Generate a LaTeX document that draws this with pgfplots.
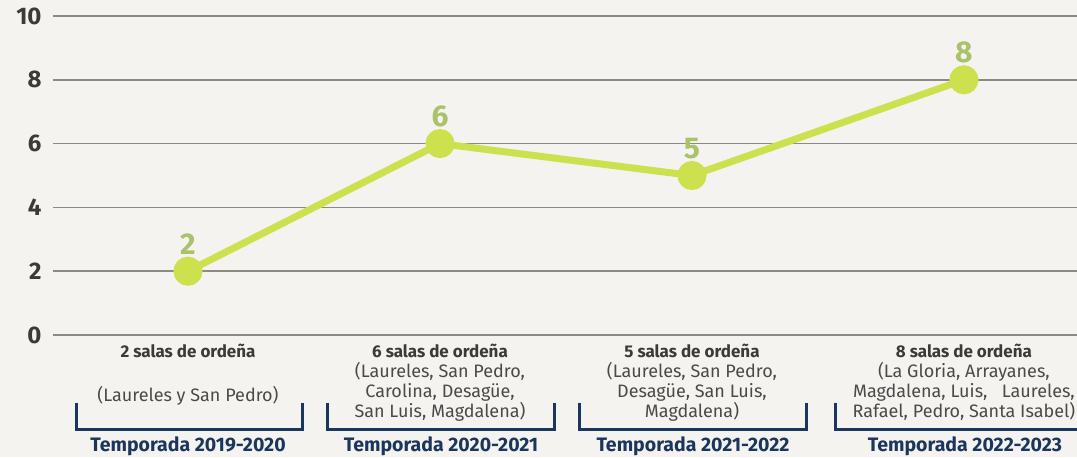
\documentclass[border=0pt]{standalone}
\usepackage{fontspec}
\setmainfont{Fira Sans}
\usepackage{pgfplots}
\pgfplotsset{compat=1.18}

\definecolor{paper}{HTML}{F4F3EF}
\definecolor{gridgray}{HTML}{8E8983}
\definecolor{linegreen}{HTML}{CDE04E}
\definecolor{labgreen}{HTML}{A9C26B}
\definecolor{navy}{HTML}{1B365D}
\definecolor{tickdark}{HTML}{3A3A3A}
\definecolor{textgray}{HTML}{4A4A4A}

\newcommand{\salas}[1]{{\fontsize{8.5}{10}\selectfont\textbf{\textcolor{tickdark}{#1}}}}

\begin{document}
\begin{tikzpicture}
\useasboundingbox (-26.5pt,-61pt) rectangle (512pt,167.5pt);
\fill[paper] (-26.5pt,-61pt) rectangle (512pt,167.5pt);
\begin{axis}[
    scale only axis,
    width=512pt, height=159.5pt,
    xmin=-0.5357, xmax=3.5278,
    ymin=0, ymax=10,
    clip=false,
    axis line style={draw=none},
    major tick length=0pt,
    ytick={0,2,...,10},
    ymajorgrids,
    grid style={gridgray, line width=0.8pt},
    /pgf/number format/assume math mode=true,
    yticklabel style={font=\bfseries\fontsize{12}{12}\selectfont, text=tickdark, xshift=-2.2pt},
    xtick={0,1,2,3.079},
    xticklabels={
        {\salas{2 salas de ordeña}\\[12pt](Laureles y San Pedro)},
        {\salas{6 salas de ordeña}\\(Laureles, San Pedro,\\Carolina, Desagüe,\\San Luis, Magdalena)},
        {\salas{5 salas de ordeña}\\(Laureles, San Pedro,\\Desagüe, San Luis,\\Magdalena)},
        {\salas{8 salas de ordeña}\\(La Gloria, Arrayanes,\\Magdalena, Luis,\ \ \ Laureles,\\Rafael, Pedro, Santa Isabel)}
    },
    xticklabel style={align=center, anchor=north, font=\fontsize{9}{10}\selectfont, text=textgray, yshift=-1pt},
    nodes near coords,
    every node near coord/.append style={font=\bfseries\fontsize{15}{15}\selectfont, text=labgreen, anchor=base, yshift=8.5pt},
]
\addplot[linegreen, line width=3.5pt, mark=*, mark size=5.5pt,
    mark options={fill=linegreen, draw=none}]
    coordinates {(0,2) (1,6) (2,5) (3.079,8)};

% brackets under each season
\draw[navy, line width=1.5pt] (axis cs:-0.444,-2.13) -- (axis cs:-0.444,-2.95) -- (axis cs:0.456,-2.95) -- (axis cs:0.456,-2.13);
\draw[navy, line width=1.5pt] (axis cs:0.552,-2.13) -- (axis cs:0.552,-2.95) -- (axis cs:1.456,-2.95) -- (axis cs:1.456,-2.13);
\draw[navy, line width=1.5pt] (axis cs:1.552,-2.13) -- (axis cs:1.552,-2.95) -- (axis cs:2.456,-2.95) -- (axis cs:2.456,-2.13);
\draw[navy, line width=1.5pt] (axis cs:2.571,-2.13) -- (axis cs:2.571,-2.95) -- (axis cs:3.587,-2.95) -- (axis cs:3.587,-2.13);

\node[font=\bfseries\fontsize{9.75}{10}\selectfont, text=navy] at (axis cs:0,-3.5) {Temporada 2019-2020};
\node[font=\bfseries\fontsize{9.75}{10}\selectfont, text=navy] at (axis cs:1.004,-3.5) {Temporada 2020-2021};
\node[font=\bfseries\fontsize{9.75}{10}\selectfont, text=navy] at (axis cs:2.004,-3.5) {Temporada 2021-2022};
\node[font=\bfseries\fontsize{9.75}{10}\selectfont, text=navy] at (axis cs:3.083,-3.5) {Temporada 2022-2023};
\end{axis}
\end{tikzpicture}
\end{document}
